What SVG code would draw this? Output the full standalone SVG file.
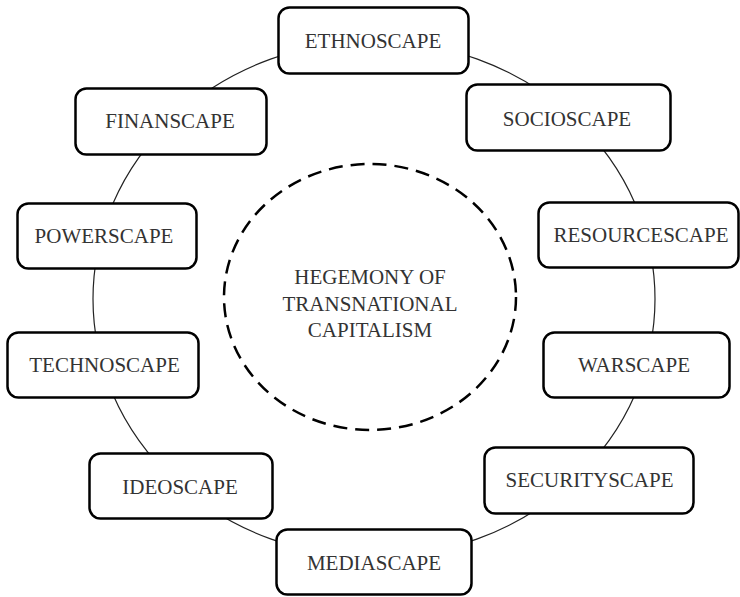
<svg xmlns="http://www.w3.org/2000/svg" width="740" height="597" viewBox="0 0 740 597">
<style>
.box{fill:#fff;stroke:#000;stroke-width:2.5}
.lbl{font-family:"Liberation Serif","DejaVu Serif",serif;font-size:21px;fill:#333;text-anchor:middle}
.ring{fill:none;stroke:#222;stroke-width:1.2}
.core{fill:none;stroke:#000;stroke-width:2.5;stroke-dasharray:14 8}
</style>
<rect width="740" height="597" fill="#fff"/>
<g id="connectors">
<ellipse class="ring" cx="374" cy="299" rx="281" ry="258"/>
</g>
<g id="hegemony">
<ellipse class="core" cx="370" cy="297" rx="146" ry="133"/>
<text class="lbl" x="370" y="284">HEGEMONY OF</text>
<text class="lbl" x="370" y="311">TRANSNATIONAL</text>
<text class="lbl" x="370" y="337">CAPITALISM</text>
</g>
<g id="ethnoscape"><rect class="box" x="278.5" y="7.5" width="190" height="66" rx="11"/><text class="lbl" x="373" y="48">ETHNOSCAPE</text></g>
<g id="finanscape"><rect class="box" x="75.5" y="88.5" width="191" height="66" rx="11"/><text class="lbl" x="170" y="128">FINANSCAPE</text></g>
<g id="socioscape"><rect class="box" x="466.5" y="84.5" width="204" height="66" rx="11"/><text class="lbl" x="567" y="126">SOCIOSCAPE</text></g>
<g id="powerscape"><rect class="box" x="17.5" y="203.5" width="179" height="65" rx="11"/><text class="lbl" x="104" y="243">POWERSCAPE</text></g>
<g id="resourcescape"><rect class="box" x="538.5" y="202.5" width="200" height="65" rx="11"/><text class="lbl" x="641" y="242">RESOURCESCAPE</text></g>
<g id="technoscape"><rect class="box" x="7.5" y="332.5" width="191" height="65" rx="11"/><text class="lbl" x="104.5" y="372">TECHNOSCAPE</text></g>
<g id="warscape"><rect class="box" x="543.5" y="332.5" width="186" height="65" rx="11"/><text class="lbl" x="634" y="372">WARSCAPE</text></g>
<g id="ideoscape"><rect class="box" x="89.5" y="453.5" width="183" height="65" rx="11"/><text class="lbl" x="180" y="494">IDEOSCAPE</text></g>
<g id="securityscape"><rect class="box" x="484.5" y="447.5" width="209" height="66" rx="11"/><text class="lbl" x="589.5" y="487">SECURITYSCAPE</text></g>
<g id="mediascape"><rect class="box" x="276.5" y="529.5" width="195" height="65" rx="11"/><text class="lbl" x="374" y="570">MEDIASCAPE</text></g>
</svg>
